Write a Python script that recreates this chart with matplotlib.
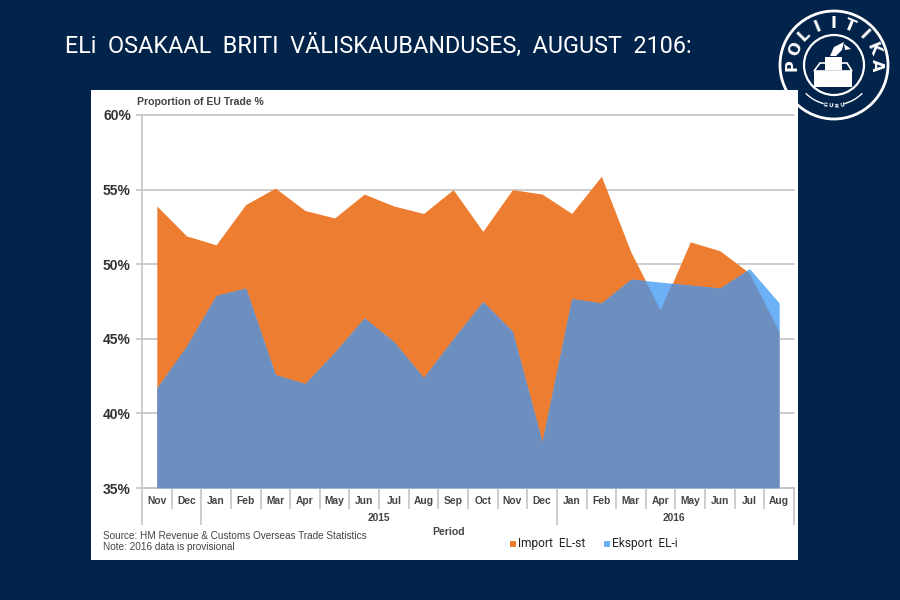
import numpy as np
import matplotlib
matplotlib.use("Agg")
import matplotlib.pyplot as plt
from matplotlib.patches import Circle, Rectangle, Polygon, Arc
from matplotlib.transforms import blended_transform_factory

# Values
months = ["Nov", "Dec", "Jan", "Feb", "Mar", "Apr", "May", "Jun", "Jul", "Aug", "Sep",
          "Oct", "Nov", "Dec", "Jan", "Feb", "Mar", "Apr", "May", "Jun", "Jul", "Aug"]
import_eu = [53.9, 51.9, 51.3, 54.0, 55.1, 53.6, 53.1, 54.7, 53.9, 53.4, 55.0,
             52.2, 55.0, 54.7, 53.4, 55.9, 50.8, 46.9, 51.5, 50.9, 49.4, 45.5]
export_eu = [41.7, 44.5, 47.9, 48.4, 42.6, 42.0, 44.1, 46.4, 44.8, 42.4, 45.0,
             47.5, 45.5, 38.1, 47.7, 47.4, 49.0, 48.8, 48.6, 48.4, 49.7, 47.4]
y_ticks = [35, 40, 45, 50, 55, 60]
title = "ELi  OSAKAAL  BRITI  VÄLISKAUBANDUSES,  AUGUST  2106:"
logo_word = "POLIITIKA"

NAVY = "#03244a"
ORANGE = "#ed7d31"
LIGHT_BLUE = "#6cb0f5"
STEEL = "#6d8fc0"
GREY = "#c4c4c4"
LABEL = "Liberation Sans"
NARROW = "Roboto"

fig = plt.figure(figsize=(9, 6), dpi=100, facecolor=NAVY)

# Background layer in pixel coordinates: logo, white panel, free text
bg = fig.add_axes([0, 0, 1, 1])
bg.set_xlim(0, 900)
bg.set_ylim(600, 0)
bg.axis("off")

cx, cy = 834, 65
bg.add_patch(Circle((cx, cy), 54, fc="none", ec="white", lw=2))
bg.add_patch(Circle((cx, cy), 30, fc="none", ec="white", lw=1.6))
angles = np.linspace(180, 0, len(logo_word))
for ch, a in zip(logo_word, angles):
    r = np.radians(a)
    bg.text(cx + 42 * np.cos(r), cy - 42 * np.sin(r), ch, color="white", fontsize=11.5,
            fontweight="bold", rotation=a - 90, ha="center", va="center")
for ch, a in zip("GURU", [-102, -94, -86, -78]):
    r = np.radians(a)
    bg.text(cx + 41 * np.cos(r), cy - 41 * np.sin(r), ch, color="white", fontsize=4,
            fontweight="bold", rotation=a + 90, ha="center", va="center")
# y axis of this layer points down, so these angles sit in the lower half
bg.add_patch(Arc((cx, cy), 80, 80, theta1=45, theta2=75, ec="white", lw=1))
bg.add_patch(Arc((cx, cy), 80, 80, theta1=105, theta2=135, ec="white", lw=1))
# ballot box
bg.add_patch(Rectangle((814, 71), 38, 16, fc="white", ec="none"))
bg.add_patch(Polygon([(820, 63), (847, 63), (852, 71), (814, 71)], closed=True, fc="none", ec="white", lw=1.2))
bg.add_patch(Rectangle((825, 57), 17, 13, fc="white", ec="none"))
bg.add_patch(Polygon([(830, 56), (834, 47), (844, 42), (842, 50), (836, 56)], closed=True, fc="white", ec="none"))
bg.add_patch(Polygon([(844, 44), (851, 49), (845, 50)], closed=True, fc="white", ec="none"))
bg.add_patch(Rectangle((91, 90), 707, 470, fc="white", ec="none", zorder=3))

bg.text(65, 46, title, color="white", fontsize=16.8, family=NARROW, ha="left", va="center")

bg.text(137, 102, "Proportion of EU Trade %", color="#444444", fontsize=7.6,
        fontweight="bold", family=LABEL, va="center", zorder=4)
bg.text(103, 536, "Source: HM Revenue & Customs Overseas Trade Statistics", color="#444444",
        fontsize=7.2, family=LABEL, va="center", zorder=4)
bg.text(103, 547, "Note: 2016 data is provisional", color="#444444", fontsize=7.2,
        family=LABEL, va="center", zorder=4)
bg.text(379, 518, "2015", color="#444444", fontsize=7.4, fontweight="bold",
        family=LABEL, ha="center", va="center", zorder=4)
bg.text(674, 518, "2016", color="#444444", fontsize=7.4, fontweight="bold",
        family=LABEL, ha="center", va="center", zorder=4)
bg.text(449, 532, "Period", color="#444444", fontsize=7.6, fontweight="bold",
        family=LABEL, ha="center", va="center", zorder=4)
bg.add_patch(Rectangle((510, 541), 6, 6, fc=ORANGE, ec="none", zorder=4))
bg.text(518, 544, "Import  EL-st", color="#222222", fontsize=8.6, family=NARROW, va="center", zorder=4)
bg.add_patch(Rectangle((604, 541), 6, 6, fc=LIGHT_BLUE, ec="none", zorder=4))
bg.text(612, 544, "Eksport  EL-i", color="#222222", fontsize=8.6, family=NARROW, va="center", zorder=4)

# Chart axes
ax = fig.add_axes([142 / 900, 1 - 488 / 600, (794 - 142) / 900, (488 - 115) / 600])
ax.patch.set_alpha(0)
x = np.arange(len(months))
ax.set_xlim(-0.5, len(months) - 0.5)
ax.set_ylim(35, 60)

ax.set_yticks(y_ticks)
ax.set_yticklabels([f"{v}%" for v in y_ticks], fontsize=10, fontweight="bold",
                   color="#333333", family=LABEL)
ax.yaxis.grid(True, color=GREY, lw=1.2)
for line in ax.get_ygridlines():
    line.set_clip_on(False)
ax.set_axisbelow(True)
ax.tick_params(axis="y", length=4, color=GREY, width=1.2, pad=4)

ax.set_xticks(x)
ax.set_xticklabels(months, fontsize=7.4, fontweight="bold", color="#444444", family=LABEL)
ax.tick_params(axis="x", length=0, pad=6)

for side in ["top", "right"]:
    ax.spines[side].set_visible(False)
for side in ["left", "bottom"]:
    ax.spines[side].set_color(GREY)
    ax.spines[side].set_linewidth(1.2)

# Export on top; the part overlapping import gets the darker steel tone
imp = ax.fill_between(x, 35, import_eu, color=ORANGE, lw=0, zorder=2)
ax.fill_between(x, 35, export_eu, color=LIGHT_BLUE, lw=0, zorder=3)
overlap = ax.fill_between(x, 35, export_eu, color=STEEL, lw=0, zorder=4)
clip_poly = Polygon(imp.get_paths()[0].vertices, closed=True, transform=ax.transData)
overlap.set_clip_path(clip_poly)

# Month separators and year brackets below the axis
trans = blended_transform_factory(ax.transData, ax.transAxes)
axis_h = 488 - 115
for i in range(len(months) + 1):
    pos = i - 0.5
    long_tick = i in (0, 2, 14, 22)
    depth = 36 if long_tick else 20
    ax.plot([pos, pos], [0, -depth / axis_h], transform=trans, color=GREY,
            lw=1.2, clip_on=False, zorder=1)

fig.savefig("out.png", dpi=100, facecolor=fig.get_facecolor())
